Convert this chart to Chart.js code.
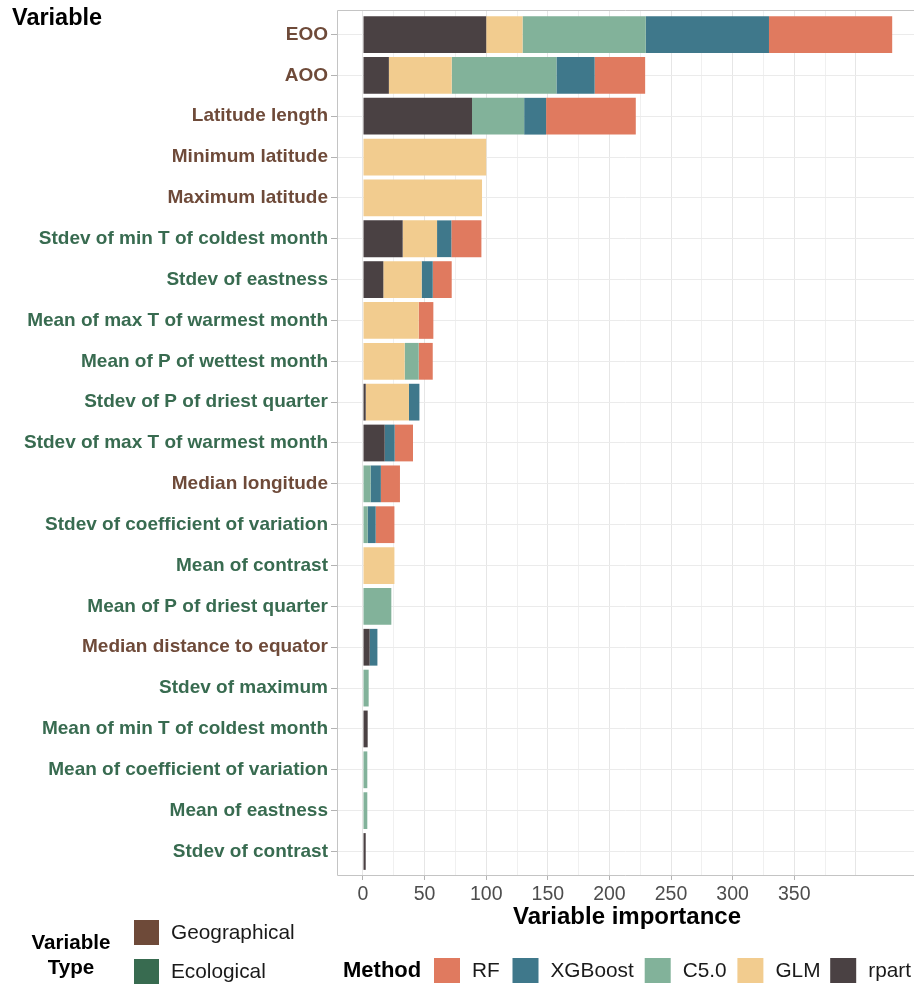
<!DOCTYPE html>
<html>
<head>
<meta charset="utf-8">
<title>Variable importance by method</title>
<script src="https://cdn.jsdelivr.net/npm/chart.js@4.4.1/dist/chart.umd.min.js"></script>
<style>
  html, body { margin: 0; padding: 0; background: #ffffff; }
  #wrap { position: relative; width: 914px; height: 985px; overflow: hidden; }
</style>
</head>
<body>
<div id="wrap"><canvas id="chart" width="914" height="985"></canvas></div>
<script>
// Predictor variables, top to bottom
const variables = [
  "EOO", "AOO", "Latitude length", "Minimum latitude", "Maximum latitude",
  "Stdev of min T of coldest month", "Stdev of eastness", "Mean of max T of warmest month",
  "Mean of P of wettest month", "Stdev of P of driest quarter", "Stdev of max T of warmest month",
  "Median longitude", "Stdev of coefficient of variation", "Mean of contrast",
  "Mean of P of driest quarter", "Median distance to equator", "Stdev of maximum",
  "Mean of min T of coldest month", "Mean of coefficient of variation", "Mean of eastness",
  "Stdev of contrast"
];
// G = Geographical, E = Ecological
const variableType = [
  "G", "G", "G", "G", "G",
  "E", "E", "E",
  "E", "E", "E",
  "G", "E", "E",
  "E", "G", "E",
  "E", "E", "E",
  "E"
];

// Importance per method (stacked left to right: rpart, GLM, C5.0, XGBoost, RF)
const rpart   = [100, 21, 88.5, 0, 0, 32.2, 16.5, 0, 0, 2.2, 17.6, 0, 0, 0, 0, 5.4, 0, 3.8, 0, 0, 2.2];
const glm     = [29.5, 51, 0, 100, 96.6, 27.9, 31.1, 45.2, 33.8, 35.1, 0, 0, 0, 25.5, 0, 0, 0, 0, 0, 0, 0];
const c50     = [100, 85, 42.3, 0, 0, 0, 0, 0, 11.4, 0, 0, 6.2, 3.8, 0, 23, 0, 4.6, 0, 3.5, 3.5, 0];
const xgboost = [100, 31, 17.8, 0, 0, 11.6, 9, 0, 0, 8.5, 8.1, 8.3, 6.5, 0, 0, 6.3, 0, 0, 0, 0, 0];
const rf      = [100, 41, 72.8, 0, 0, 24.4, 15.4, 11.9, 11.4, 0, 14.9, 15.5, 15.2, 0, 0, 0, 0, 0, 0, 0, 0];

// Axis ticks
const xLabelTicks = [0, 50, 100, 150, 200, 250, 300, 350];
const xGridTicks  = [0, 25, 50, 75, 100, 125, 150, 175, 200, 225, 250, 275, 300, 325, 350, 375, 400];

const methodColors = {
  rpart: "#4a4143",
  GLM: "#f2cc8f",
  "C5.0": "#82b29a",
  XGBoost: "#3f788b",
  RF: "#e07a5f"
};
const typeColors = { G: "#6e4a39", E: "#386b50" };
const typeNames = { G: "Geographical", E: "Ecological" };

const FONT = "'Liberation Sans', Arial, Helvetica, sans-serif";

function series(values) {
  return values.map((v, i) => ({ x: v, y: i }));
}

const datasets = [
  { label: "rpart", data: series(rpart), backgroundColor: methodColors.rpart },
  { label: "GLM", data: series(glm), backgroundColor: methodColors.GLM },
  { label: "C5.0", data: series(c50), backgroundColor: methodColors["C5.0"] },
  { label: "XGBoost", data: series(xgboost), backgroundColor: methodColors.XGBoost },
  { label: "RF", data: series(rf), backgroundColor: methodColors.RF }
].map(d => Object.assign(d, {
  borderWidth: 0,
  categoryPercentage: 1.0,
  barPercentage: 0.9
}));

// Panel border, titles and the two legends
const decorations = {
  id: "decorations",
  afterDraw(chart) {
    const ctx = chart.ctx;
    const a = chart.chartArea;
    ctx.save();

    // panel border (the panel runs on past the right edge)
    ctx.strokeStyle = "#c4c4c4";
    ctx.lineWidth = 1;
    ctx.beginPath();
    ctx.moveTo(chart.width, a.top + 0.5);
    ctx.lineTo(a.left + 0.5, a.top + 0.5);
    ctx.lineTo(a.left + 0.5, a.bottom - 0.5);
    ctx.lineTo(chart.width, a.bottom - 0.5);
    ctx.stroke();

    ctx.fillStyle = "#000000";
    ctx.textBaseline = "middle";

    // y axis title
    ctx.font = "bold 23.5px " + FONT;
    ctx.textAlign = "left";
    ctx.fillText("Variable", 12, 19);

    // x axis title
    ctx.font = "bold 24px " + FONT;
    ctx.textAlign = "center";
    ctx.fillText("Variable importance", 627, 917);

    // variable type legend
    ctx.font = "bold 20.6px " + FONT;
    ctx.fillText("Variable", 71, 943);
    ctx.fillText("Type", 71, 968);
    const typeKeys = ["G", "E"];
    const typeY = [920, 959];
    ctx.textAlign = "left";
    ctx.font = "20.8px " + FONT;
    typeKeys.forEach((k, i) => {
      ctx.fillStyle = typeColors[k];
      ctx.fillRect(134, typeY[i], 25, 25);
      ctx.fillStyle = "#1a1a1a";
      ctx.fillText(typeNames[k], 171, typeY[i] + 13);
    });

    // method legend
    ctx.fillStyle = "#000000";
    ctx.font = "bold 22px " + FONT;
    ctx.fillText("Method", 343, 971);
    const order = ["RF", "XGBoost", "C5.0", "GLM", "rpart"];
    const swatchX = [434, 512.5, 644.7, 737.4, 830.2];
    ctx.font = "20.8px " + FONT;
    order.forEach((name, i) => {
      const ds = chart.data.datasets.find(d => d.label === name);
      ctx.fillStyle = ds.backgroundColor;
      ctx.fillRect(swatchX[i], 958, 26, 25);
      ctx.fillStyle = "#1a1a1a";
      ctx.fillText(name, swatchX[i] + 38, 971);
    });

    ctx.restore();
  }
};

new Chart(document.getElementById("chart"), {
  type: "bar",
  data: { datasets },
  options: {
    indexAxis: "y",
    responsive: false,
    animation: false,
    devicePixelRatio: 1,
    layout: { padding: { top: 10, right: 0, bottom: 0, left: 0 } },
    plugins: {
      legend: { display: false },
      tooltip: { enabled: false }
    },
    scales: {
      x: {
        type: "linear",
        stacked: true,
        offset: false,
        min: -21.1,
        max: 447.2,
        afterBuildTicks(scale) {
          scale.ticks = xGridTicks.map(v => ({ value: v }));
        },
        afterFit(scale) {
          scale.height = 985 - 876;
          scale.paddingLeft = 0;
          scale.paddingRight = 0;
        },
        border: { display: false },
        grid: {
          offset: false,
          color: c => (c.tick && c.tick.value % 50 === 0) ? "#e6e6e6" : "#f0f0f0",
          lineWidth: 1,
          drawTicks: true,
          tickLength: 4,
          tickColor: c => (c.tick && xLabelTicks.includes(c.tick.value)) ? "#b3b3b3" : "rgba(0,0,0,0)"
        },
        ticks: {
          autoSkip: false,
          maxRotation: 0,
          padding: 3,
          color: "#4d4d4d",
          font: { family: FONT, size: 19.5 },
          callback: v => xLabelTicks.includes(v) ? String(v) : ""
        }
      },
      y: {
        type: "linear",
        stacked: true,
        reverse: true,
        offset: false,
        min: -0.6,
        max: 20.6,
        afterBuildTicks(scale) {
          scale.ticks = variables.map((_, i) => ({ value: i }));
        },
        afterFit(scale) {
          scale.width = 337;
          scale.paddingTop = 0;
          scale.paddingBottom = 0;
        },
        border: { display: false },
        grid: {
          offset: false,
          color: "#ebebeb",
          lineWidth: 1,
          drawTicks: true,
          tickLength: 6,
          tickColor: "#b3b3b3"
        },
        ticks: {
          autoSkip: false,
          padding: 3,
          font: { family: FONT, size: 19, weight: "bold" },
          color: c => typeColors[variableType[c.tick ? c.tick.value : c.index]],
          callback: v => variables[v]
        }
      }
    }
  },
  plugins: [decorations]
});
</script>
</body>
</html>
